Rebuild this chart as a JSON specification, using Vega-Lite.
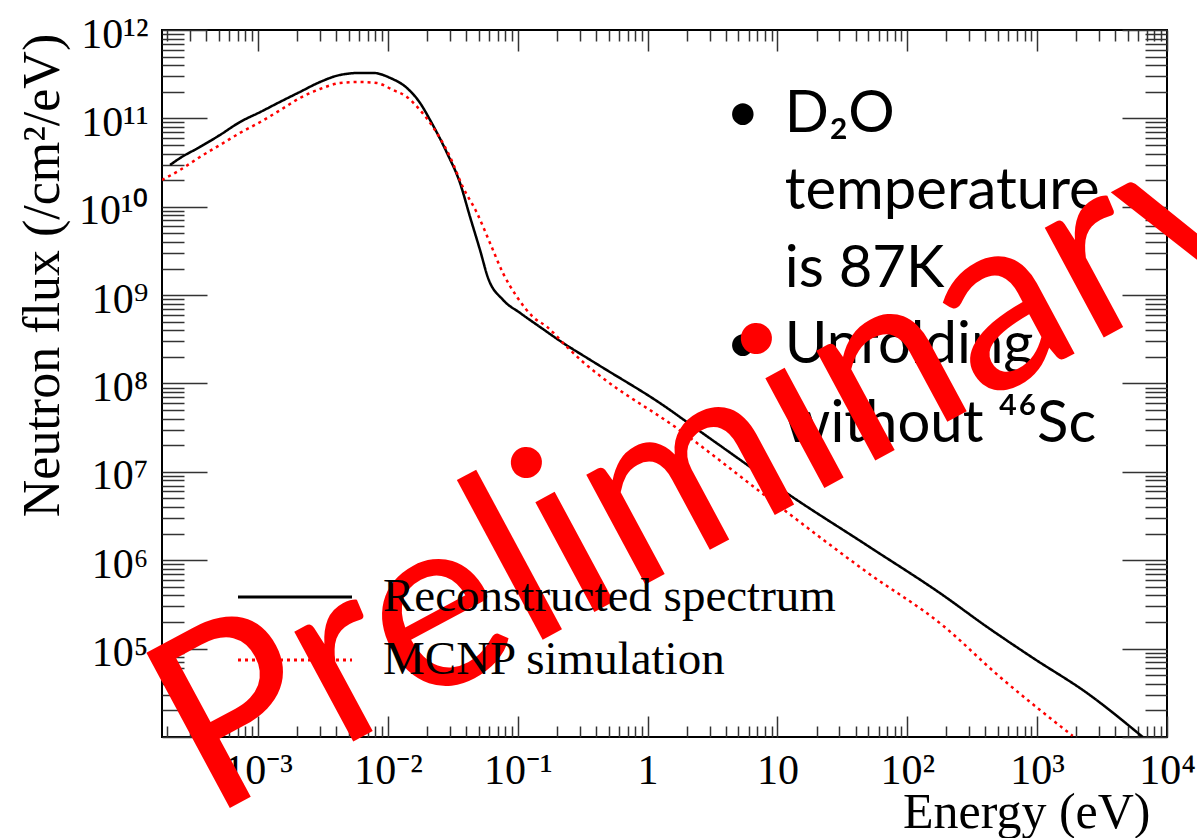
{
  "$schema": "https://vega.github.io/schema/vega-lite/v6.json",
  "width": 1005,
  "height": 707,
  "autosize": {"type": "none"},
  "padding": {"left": 162, "top": 30, "right": 30, "bottom": 101},
  "background": "white",
  "config": {
    "view": {"stroke": "#000000", "strokeWidth": 2},
    "axis": {"domain": false, "grid": false, "tickColor": "#333333", "tickWidth": 1.5}
  },
  "datasets": {
    "curves": [
      {"series": "Reconstructed spectrum", "E": 0.00021, "F": 2.97e10},
      {"series": "Reconstructed spectrum", "E": 0.000251, "F": 3.56e10},
      {"series": "Reconstructed spectrum", "E": 0.000357, "F": 4.75e10},
      {"series": "Reconstructed spectrum", "E": 0.000509, "F": 6.49e10},
      {"series": "Reconstructed spectrum", "E": 0.000726, "F": 9.10e10},
      {"series": "Reconstructed spectrum", "E": 0.00104, "F": 1.18e11},
      {"series": "Reconstructed spectrum", "E": 0.00148, "F": 1.54e11},
      {"series": "Reconstructed spectrum", "E": 0.0021, "F": 1.99e11},
      {"series": "Reconstructed spectrum", "E": 0.003, "F": 2.58e11},
      {"series": "Reconstructed spectrum", "E": 0.00428, "F": 3.10e11},
      {"series": "Reconstructed spectrum", "E": 0.0061, "F": 3.27e11},
      {"series": "Reconstructed spectrum", "E": 0.00767, "F": 3.27e11},
      {"series": "Reconstructed spectrum", "E": 0.0104, "F": 2.87e11},
      {"series": "Reconstructed spectrum", "E": 0.014, "F": 2.21e11},
      {"series": "Reconstructed spectrum", "E": 0.0177, "F": 1.49e11},
      {"series": "Reconstructed spectrum", "E": 0.0211, "F": 9.6e10},
      {"series": "Reconstructed spectrum", "E": 0.0285, "F": 4.06e10},
      {"series": "Reconstructed spectrum", "E": 0.0359, "F": 1.86e10},
      {"series": "Reconstructed spectrum", "E": 0.0429, "F": 7.67e9},
      {"series": "Reconstructed spectrum", "E": 0.0512, "F": 3.24e9},
      {"series": "Reconstructed spectrum", "E": 0.059, "F": 1.57e9},
      {"series": "Reconstructed spectrum", "E": 0.0769, "F": 8.84e8},
      {"series": "Reconstructed spectrum", "E": 0.104, "F": 6.3e8},
      {"series": "Reconstructed spectrum", "E": 0.148, "F": 4.37e8},
      {"series": "Reconstructed spectrum", "E": 0.223, "F": 2.88e8},
      {"series": "Reconstructed spectrum", "E": 0.341, "F": 1.95e8},
      {"series": "Reconstructed spectrum", "E": 0.43, "F": 1.58e8},
      {"series": "Reconstructed spectrum", "E": 1.41, "F": 5.3e7},
      {"series": "Reconstructed spectrum", "E": 1.9, "F": 3.88e7},
      {"series": "Reconstructed spectrum", "E": 6.14, "F": 1.14e7},
      {"series": "Reconstructed spectrum", "E": 10.3, "F": 6.6e6},
      {"series": "Reconstructed spectrum", "E": 48.4, "F": 1.49e6},
      {"series": "Reconstructed spectrum", "E": 186.6, "F": 4.06e5},
      {"series": "Reconstructed spectrum", "E": 409, "F": 1.77e5},
      {"series": "Reconstructed spectrum", "E": 925, "F": 7.87e4},
      {"series": "Reconstructed spectrum", "E": 2410, "F": 3.16e4},
      {"series": "Reconstructed spectrum", "E": 6500, "F": 1.0e4},
      {"series": "MCNP simulation", "E": 0.000182, "F": 2.01e10},
      {"series": "MCNP simulation", "E": 0.000251, "F": 2.61e10},
      {"series": "MCNP simulation", "E": 0.000357, "F": 3.66e10},
      {"series": "MCNP simulation", "E": 0.000509, "F": 5.0e10},
      {"series": "MCNP simulation", "E": 0.000726, "F": 6.84e10},
      {"series": "MCNP simulation", "E": 0.00104, "F": 9.1e10},
      {"series": "MCNP simulation", "E": 0.00148, "F": 1.24e11},
      {"series": "MCNP simulation", "E": 0.0021, "F": 1.7e11},
      {"series": "MCNP simulation", "E": 0.003, "F": 2.15e11},
      {"series": "MCNP simulation", "E": 0.00428, "F": 2.51e11},
      {"series": "MCNP simulation", "E": 0.0061, "F": 2.58e11},
      {"series": "MCNP simulation", "E": 0.00824, "F": 2.51e11},
      {"series": "MCNP simulation", "E": 0.0109, "F": 2.1e11},
      {"series": "MCNP simulation", "E": 0.014, "F": 1.75e11},
      {"series": "MCNP simulation", "E": 0.0168, "F": 1.35e11},
      {"series": "MCNP simulation", "E": 0.0222, "F": 8.0e10},
      {"series": "MCNP simulation", "E": 0.0301, "F": 3.66e10},
      {"series": "MCNP simulation", "E": 0.0378, "F": 1.67e10},
      {"series": "MCNP simulation", "E": 0.0485, "F": 8.51e9},
      {"series": "MCNP simulation", "E": 0.0611, "F": 3.89e9},
      {"series": "MCNP simulation", "E": 0.0769, "F": 1.78e9},
      {"series": "MCNP simulation", "E": 0.0986, "F": 9.55e8},
      {"series": "MCNP simulation", "E": 0.131, "F": 5.66e8},
      {"series": "MCNP simulation", "E": 0.168, "F": 4.37e8},
      {"series": "MCNP simulation", "E": 0.239, "F": 2.6e8},
      {"series": "MCNP simulation", "E": 0.318, "F": 1.75e8},
      {"series": "MCNP simulation", "E": 0.43, "F": 1.22e8},
      {"series": "MCNP simulation", "E": 1.65, "F": 3.18e7},
      {"series": "MCNP simulation", "E": 8.89, "F": 4.82e6},
      {"series": "MCNP simulation", "E": 48.4, "F": 7.4e5},
      {"series": "MCNP simulation", "E": 186.6, "F": 1.84e5},
      {"series": "MCNP simulation", "E": 515, "F": 4.8e4},
      {"series": "MCNP simulation", "E": 1047, "F": 2.03e4},
      {"series": "MCNP simulation", "E": 1880, "F": 1.03e4}
    ],
    "notes": [
      {"t": "D₂O", "E": 11.4, "F": 7.08e10},
      {"t": "temperature", "E": 11.4, "F": 9.44e9},
      {"t": "is 87K", "E": 11.4, "F": 1.25e9},
      {"t": "Unfolding", "E": 11.4, "F": 1.71e8},
      {"t": "without ⁴⁶Sc", "E": 11.4, "F": 2.2e7}
    ],
    "bullets": [
      {"t": "•", "E": 5.42, "F": 7.08e10},
      {"t": "•", "E": 5.42, "F": 1.71e8}
    ],
    "wm": [
      {"t": "Preliminary", "E": 0.000427, "F": 1188}
    ]
  },
  "resolve": {"scale": {"x": "shared", "y": "shared"}, "axis": {"x": "independent", "y": "independent"}},
  "layer": [
    {
      "data": {"name": "curves"},
      "mark": {"type": "line", "clip": true, "strokeWidth": 2.5, "interpolate": "monotone"},
      "encoding": {
        "x": {
          "field": "E", "type": "quantitative",
          "scale": {"type": "log", "domain": [0.000182, 10000]},
          "axis": {
            "orient": "bottom",
            "values": [0.0002,0.0003,0.0004,0.0005,0.0006,0.0007,0.0008,0.0009,0.001,0.002,0.003,0.004,0.005,0.006,0.007,0.008,0.009,0.01,0.02,0.03,0.04,0.05,0.06,0.07,0.08,0.09,0.1,0.2,0.3,0.4,0.5,0.6,0.7,0.8,0.9,1,2,3,4,5,6,7,8,9,10,20,30,40,50,60,70,80,90,100,200,300,400,500,600,700,800,900,1000,2000,3000,4000,5000,6000,7000,8000,9000,10000],
            "tickSize": {"condition": {"test": "abs(log(datum.value)/LN10-round(log(datum.value)/LN10))<0.001", "value": -21}, "value": -11},
            "labelExpr": "datum.value==0.001?'10⁻³':datum.value==0.01?'10⁻²':datum.value==0.1?'10⁻¹':datum.value==1?'1':datum.value==10?'10':datum.value==100?'10²':datum.value==1000?'10³':datum.value==10000?'10⁴':''",
            "labelFont": "Liberation Serif", "labelFontSize": 42, "labelColor": "#000000",
            "labelBaseline": "alphabetic", "labelAlign": "center", "labelPadding": 67,
            "labelOverlap": false, "labelFlush": false, "labelBound": false,
            "title": "Energy (eV)", "titleFont": "Liberation Serif", "titleFontSize": 50,
            "titleFontWeight": "normal", "titleColor": "#000000",
            "titleX": 988, "titleY": 90, "titleAlign": "right", "titleBaseline": "alphabetic"
          }
        },
        "y": {
          "field": "F", "type": "quantitative",
          "scale": {"type": "log", "domain": [10000, 1e12]},
          "axis": {
            "orient": "left",
            "values": [1e4,2e4,3e4,4e4,5e4,6e4,7e4,8e4,9e4,1e5,2e5,3e5,4e5,5e5,6e5,7e5,8e5,9e5,1e6,2e6,3e6,4e6,5e6,6e6,7e6,8e6,9e6,1e7,2e7,3e7,4e7,5e7,6e7,7e7,8e7,9e7,1e8,2e8,3e8,4e8,5e8,6e8,7e8,8e8,9e8,1e9,2e9,3e9,4e9,5e9,6e9,7e9,8e9,9e9,1e10,2e10,3e10,4e10,5e10,6e10,7e10,8e10,9e10,1e11,2e11,3e11,4e11,5e11,6e11,7e11,8e11,9e11,1e12],
            "tickSize": {"condition": {"test": "abs(log(datum.value)/LN10-round(log(datum.value)/LN10))<0.001", "value": -45}, "value": -22},
            "labelExpr": "datum.value==1e5?'10⁵':datum.value==1e6?'10⁶':datum.value==1e7?'10⁷':datum.value==1e8?'10⁸':datum.value==1e9?'10⁹':datum.value==1e10?'10¹⁰':datum.value==1e11?'10¹¹':datum.value==1e12?'10¹²':''",
            "labelFont": "Liberation Serif", "labelFontSize": 42, "labelColor": "#000000",
            "labelAlign": "right", "labelBaseline": "middle", "labelPadding": 59, "labelOffset": 4,
            "labelOverlap": false, "labelFlush": false, "labelBound": false,
            "title": "Neutron flux (/cm²/eV)", "titleFont": "Liberation Serif", "titleFontSize": 52,
            "titleFontWeight": "normal", "titleColor": "#000000",
            "titleX": -104, "titleY": 245, "titleAngle": -90, "titleAlign": "center", "titleBaseline": "alphabetic"
          }
        },
        "color": {
          "field": "series", "type": "nominal",
          "scale": {"domain": ["Reconstructed spectrum", "MCNP simulation"], "range": ["#000000", "#ff0000"]},
          "legend": {
            "orient": "none", "legendX": 74.5, "legendY": 543.5, "title": null,
            "padding": 0, "offset": 0, "symbolType": "stroke", "symbolSize": 12996, "symbolStrokeWidth": 3,
            "labelFont": "Liberation Serif", "labelFontSize": 47, "labelColor": "#000000",
            "labelOffset": 29.5, "labelBaseline": "middle", "clipHeight": 47, "rowPadding": 15, "labelLimit": 0
          }
        },
        "strokeDash": {
          "field": "series", "type": "nominal",
          "scale": {"domain": ["Reconstructed spectrum", "MCNP simulation"], "range": [[1, 0], [3, 4]]},
          "legend": {
            "orient": "none", "legendX": 74.5, "legendY": 543.5, "title": null,
            "padding": 0, "offset": 0, "symbolType": "stroke", "symbolSize": 12996, "symbolStrokeWidth": 3,
            "labelFont": "Liberation Serif", "labelFontSize": 47, "labelColor": "#000000",
            "labelOffset": 29.5, "labelBaseline": "middle", "clipHeight": 47, "rowPadding": 15, "labelLimit": 0
          }
        }
      }
    },
    {
      "data": {"name": "notes"},
      "mark": {"type": "text", "align": "left", "baseline": "alphabetic", "font": "Lato", "fontSize": 58, "color": "#000000"},
      "encoding": {
        "x": {
          "field": "E", "type": "quantitative",
          "scale": {"type": "log", "domain": [0.000182, 10000]},
          "axis": {
            "orient": "top",
            "values": [0.0002,0.0003,0.0004,0.0005,0.0006,0.0007,0.0008,0.0009,0.001,0.002,0.003,0.004,0.005,0.006,0.007,0.008,0.009,0.01,0.02,0.03,0.04,0.05,0.06,0.07,0.08,0.09,0.1,0.2,0.3,0.4,0.5,0.6,0.7,0.8,0.9,1,2,3,4,5,6,7,8,9,10,20,30,40,50,60,70,80,90,100,200,300,400,500,600,700,800,900,1000,2000,3000,4000,5000,6000,7000,8000,9000,10000],
            "tickSize": {"condition": {"test": "abs(log(datum.value)/LN10-round(log(datum.value)/LN10))<0.001", "value": -21}, "value": -11},
            "labels": false, "title": null
          }
        },
        "y": {
          "field": "F", "type": "quantitative",
          "scale": {"type": "log", "domain": [10000, 1e12]},
          "axis": {
            "orient": "right",
            "values": [1e4,2e4,3e4,4e4,5e4,6e4,7e4,8e4,9e4,1e5,2e5,3e5,4e5,5e5,6e5,7e5,8e5,9e5,1e6,2e6,3e6,4e6,5e6,6e6,7e6,8e6,9e6,1e7,2e7,3e7,4e7,5e7,6e7,7e7,8e7,9e7,1e8,2e8,3e8,4e8,5e8,6e8,7e8,8e8,9e8,1e9,2e9,3e9,4e9,5e9,6e9,7e9,8e9,9e9,1e10,2e10,3e10,4e10,5e10,6e10,7e10,8e10,9e10,1e11,2e11,3e11,4e11,5e11,6e11,7e11,8e11,9e11,1e12],
            "tickSize": {"condition": {"test": "abs(log(datum.value)/LN10-round(log(datum.value)/LN10))<0.001", "value": -45}, "value": -22},
            "labels": false, "title": null
          }
        },
        "text": {"field": "t", "type": "nominal"}
      }
    },
    {
      "data": {"name": "bullets"},
      "mark": {"type": "text", "align": "center", "baseline": "alphabetic", "font": "Lato", "fontSize": 58, "color": "#000000"},
      "encoding": {
        "x": {"field": "E", "type": "quantitative", "scale": {"type": "log", "domain": [0.000182, 10000]}, "axis": null},
        "y": {"field": "F", "type": "quantitative", "scale": {"type": "log", "domain": [10000, 1e12]}, "axis": null},
        "text": {"field": "t", "type": "nominal"}
      }
    },
    {
      "data": {"name": "wm"},
      "mark": {"type": "text", "align": "left", "baseline": "alphabetic", "font": "Lato", "fontSize": 246, "angle": -28.3, "color": "#ff0000", "clip": false},
      "encoding": {
        "x": {"field": "E", "type": "quantitative", "scale": {"type": "log", "domain": [0.000182, 10000]}, "axis": null},
        "y": {"field": "F", "type": "quantitative", "scale": {"type": "log", "domain": [10000, 1e12]}, "axis": null},
        "text": {"field": "t", "type": "nominal"}
      }
    }
  ]
}
